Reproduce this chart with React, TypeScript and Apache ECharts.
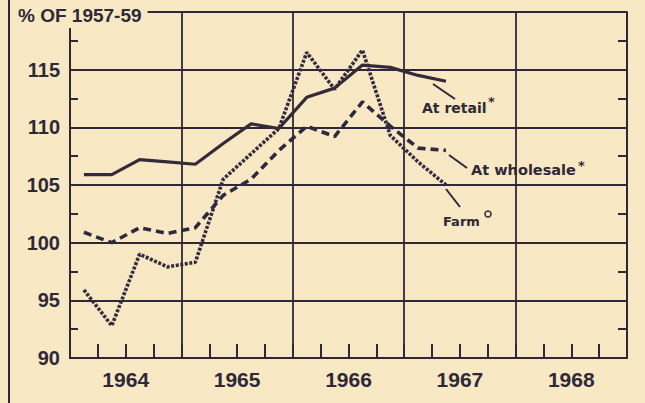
import React, { useEffect, useRef } from 'react';
import * as echarts from 'echarts';

// Quarter mid-points (years) for the plotted observations
const quarterTimes = [
  1964.125, 1964.375, 1964.625, 1964.875,
  1965.125, 1965.375, 1965.625, 1965.875,
  1966.125, 1966.375, 1966.625, 1966.875,
  1967.125, 1967.375,
];
const retail = [105.9, 105.9, 107.2, 107.0, 106.8, 108.6, 110.3, 109.9, 112.6, 113.4, 115.4, 115.2, 114.5, 114.0];
const wholesale = [100.9, 100.0, 101.3, 100.8, 101.3, 104.1, 105.5, 108.0, 110.1, 109.2, 112.2, 110.1, 108.2, 108.0];
const farm = [95.9, 92.8, 99.0, 97.9, 98.3, 105.5, 107.7, 109.9, 116.5, 113.3, 116.7, 109.3, 107.0, 105.0];
const yearLabels = ['1964', '1965', '1966', '1967', '1968'];
const titleText = '% OF 1957-59';

const BG = '#f8e8c4';
const INK = '#2e2838';

export default function App() {
  const ref = useRef<HTMLDivElement>(null);
  useEffect(() => {
    if (!ref.current) return;
    const chart = echarts.init(ref.current, undefined, { renderer: 'svg' });
    const pairs = (vals: number[]) => vals.map((v, i) => [quarterTimes[i], v]);
    const labelFont = { fontFamily: 'DejaVu Sans', fontWeight: 'bold' as const, fontSize: 14, fill: INK };
    chart.setOption({
      animation: false,
      backgroundColor: BG,
      title: {
        text: titleText,
        left: 14,
        top: 1,
        backgroundColor: BG,
        padding: [5, 6, 3, 4],
        textStyle: { fontFamily: 'Liberation Sans', fontWeight: 'bold', fontSize: 19, color: INK, lineHeight: 19 },
      },
      grid: { left: 70, right: 18, top: 12, bottom: 45 },
      xAxis: [
        {
          type: 'value',
          position: 'bottom',
          min: 1964,
          max: 1969,
          interval: 1,
          axisLine: { show: true, lineStyle: { color: INK, width: 2 } },
          axisTick: { show: true, inside: true, length: 14, lineStyle: { color: INK, width: 2 } },
          minorTick: { show: true, splitNumber: 4, length: 14, lineStyle: { color: INK, width: 2 } },
          axisLabel: { show: false },
          splitLine: { show: true, lineStyle: { color: INK, width: 1.8 } },
        },
        {
          type: 'category',
          position: 'bottom',
          data: yearLabels,
          boundaryGap: true,
          axisLine: { show: false },
          axisTick: { show: false },
          splitLine: { show: false },
          axisLabel: { margin: 11, fontFamily: 'Liberation Sans', fontWeight: 'bold', fontSize: 21, color: INK },
        },
      ],
      yAxis: [
        {
          type: 'value',
          position: 'left',
          min: 90,
          max: 120,
          interval: 5,
          axisLine: { show: true, lineStyle: { color: INK, width: 2 } },
          axisTick: { show: true, inside: true, length: 8, lineStyle: { color: INK, width: 2 } },
          minorTick: { show: true, splitNumber: 2, length: 8, lineStyle: { color: INK, width: 2 } },
          axisLabel: {
            margin: 10,
            fontFamily: 'Liberation Sans',
            fontWeight: 'bold',
            fontSize: 20,
            color: INK,
            formatter: (v: number) => (v >= 120 ? '' : String(v)),
          },
          splitLine: { show: true, lineStyle: { color: INK, width: 1.8 } },
        },
        {
          type: 'value',
          position: 'right',
          min: 90,
          max: 120,
          interval: 5,
          axisLine: { show: true, lineStyle: { color: INK, width: 2 } },
          axisTick: { show: true, inside: true, length: 9, lineStyle: { color: INK, width: 2 } },
          minorTick: { show: true, splitNumber: 2, length: 9, lineStyle: { color: INK, width: 2 } },
          axisLabel: { show: false },
          splitLine: { show: false },
        },
      ],
      series: [
        {
          name: 'At retail',
          type: 'line',
          xAxisIndex: 0,
          yAxisIndex: 0,
          data: pairs(retail),
          symbol: 'none',
          lineStyle: { color: '#352a3a', width: 3.2, type: 'solid' },
          z: 4,
        },
        {
          name: 'At wholesale',
          type: 'line',
          xAxisIndex: 0,
          yAxisIndex: 0,
          data: pairs(wholesale),
          symbol: 'none',
          lineStyle: { color: '#2f2940', width: 3.6, type: [8, 5] },
          z: 3,
        },
        {
          name: 'Farm',
          type: 'line',
          xAxisIndex: 0,
          yAxisIndex: 0,
          data: pairs(farm),
          symbol: 'none',
          lineStyle: { color: '#332c40', width: 3.6, type: [3, 1.6] },
          z: 3,
        },
      ],
      graphic: [
        { type: 'line', shape: { x1: 9, y1: 0, x2: 9, y2: 403 }, style: { stroke: INK, lineWidth: 2 } },
        { type: 'line', shape: { x1: 433, y1: 84, x2: 455, y2: 99 }, style: { stroke: INK, lineWidth: 2 } },
        { type: 'line', shape: { x1: 449, y1: 155, x2: 467, y2: 168 }, style: { stroke: INK, lineWidth: 2 } },
        { type: 'line', shape: { x1: 446, y1: 189, x2: 460, y2: 207 }, style: { stroke: INK, lineWidth: 2 } },
        { type: 'text', x: 422, y: 108, style: { ...labelFont, text: 'At retail', textVerticalAlign: 'middle' } },
        { type: 'text', x: 488, y: 101, style: { ...labelFont, fontSize: 13, text: '*', textVerticalAlign: 'middle' } },
        { type: 'text', x: 471, y: 170, style: { ...labelFont, fontSize: 14.5, text: 'At wholesale', textVerticalAlign: 'middle' } },
        { type: 'text', x: 578, y: 165, style: { ...labelFont, fontSize: 13, text: '*', textVerticalAlign: 'middle' } },
        { type: 'text', x: 443, y: 221, style: { ...labelFont, fontSize: 13, text: 'Farm', textVerticalAlign: 'middle' } },
        { type: 'circle', shape: { cx: 488, cy: 214, r: 3 }, style: { fill: 'none', stroke: INK, lineWidth: 1.5 } },
      ],
    });
    return () => chart.dispose();
  }, []);
  return (
    <div
      ref={ref}
      style={{ position: 'absolute', left: 0, top: 0, width: 645, height: 403, background: BG }}
    />
  );
}
